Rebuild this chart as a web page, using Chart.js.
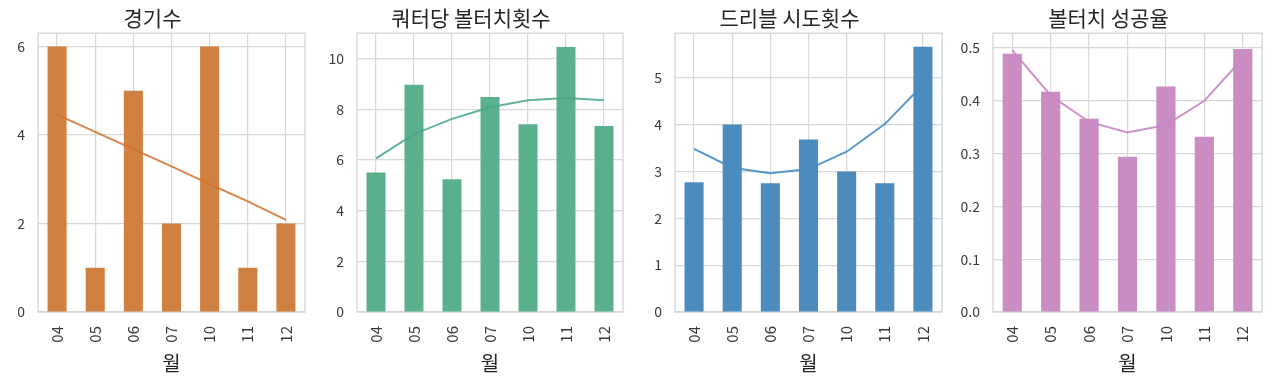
<!DOCTYPE html>
<html>
<head>
<meta charset="utf-8">
<script src="https://cdn.jsdelivr.net/npm/chart.js@4/dist/chart.umd.min.js"></script>
<style>
  body { margin: 0; background: #fff; width: 1280px; height: 389px; position: relative; overflow: hidden; }
  canvas { position: absolute; top: 0; }
</style>
</head>
<body>
<canvas id="c0"></canvas>
<canvas id="c1"></canvas>
<canvas id="c2"></canvas>
<canvas id="c3"></canvas>
<script>
// months on the x axis
const months = ['04', '05', '06', '07', '10', '11', '12'];

// bar values per panel
const games = [6, 1, 5, 2, 6, 1, 2];
const tackles = [5.5, 8.97, 5.24, 8.48, 7.41, 10.46, 7.34];
const dribbles = [2.77, 4.0, 2.75, 3.68, 3.0, 2.75, 5.66];
const successRate = [0.489, 0.417, 0.366, 0.294, 0.427, 0.332, 0.498];

// trend lines
const gamesTrend = [4.46, 4.07, 3.68, 3.29, 2.89, 2.5, 2.08];
const tacklesTrend = [6.06, 7.02, 7.62, 8.08, 8.35, 8.44, 8.35];
const dribblesTrend = [3.48, 3.08, 2.96, 3.05, 3.42, 4.01, 4.85];
const successTrend = [0.496, 0.41, 0.36, 0.34, 0.354, 0.40, 0.48];

const titles = ['경기수', '쿼터당 볼터치횟수', '드리블 시도횟수', '볼터치 성공율'];

const panels = [
  { bars: games, trend: gamesTrend, color: '#d08040', line: 'rgba(212,112,45,0.85)', max: 6.3, step: 2, dec: 0 },
  { bars: tackles, trend: tacklesTrend, color: '#5aaf8c', line: 'rgba(70,168,128,0.85)', max: 11.0, step: 2, dec: 0 },
  { bars: dribbles, trend: dribblesTrend, color: '#4b8bbe', line: 'rgba(70,140,195,0.9)', max: 5.95, step: 1, dec: 0 },
  { bars: successRate, trend: successTrend, color: '#c98dc4', line: 'rgba(200,135,195,0.9)', max: 0.528, step: 0.1, dec: 1 }
];

const plotLeft = [38, 357, 675, 993];
const plotRight = [305, 623, 942, 1262];
const AXIS_W = 38;
const PLOT_BOTTOM = 312;
const BOTTOM_PAD = 13;

const font = '"Noto Sans CJK KR", "Noto Sans", sans-serif';

// light frame round the plot area
const frame = {
  id: 'frame',
  beforeDatasetsDraw(chart) {
    const a = chart.chartArea;
    const ctx = chart.ctx;
    ctx.save();
    ctx.strokeStyle = '#d4d4d4';
    ctx.lineWidth = 1.3;
    ctx.strokeRect(a.left, a.top, a.right - a.left, a.bottom - a.top);
    ctx.restore();
  }
};

panels.forEach((p, i) => {
  const cv = document.getElementById('c' + i);
  const w = plotRight[i] - plotLeft[i];
  cv.width = w + AXIS_W * 2;
  cv.height = 389;
  cv.style.left = (plotLeft[i] - AXIS_W) + 'px';

  new Chart(cv, {
    type: 'bar',
    data: {
      labels: months,
      datasets: [
        { type: 'line', data: p.trend, borderColor: p.line, borderWidth: 2, pointRadius: 0, tension: 0, order: 0 },
        { type: 'bar', data: p.bars, backgroundColor: p.color, barPercentage: 0.5, categoryPercentage: 1.0, order: 1 }
      ]
    },
    options: {
      responsive: false,
      animation: false,
      layout: { padding: { left: 0, right: AXIS_W, top: 0, bottom: BOTTOM_PAD } },
      plugins: {
        legend: { display: false },
        tooltip: { enabled: false },
        title: {
          display: true,
          text: titles[i],
          color: '#262626',
          font: { family: font, size: 21, weight: 'normal' },
          padding: { top: 5, bottom: 3 }
        }
      },
      scales: {
        x: {
          grid: { color: '#d8d8d8', lineWidth: 1.2, offset: false, drawTicks: false },
          border: { display: false },
          afterFit(scale) { scale.height = 389 - PLOT_BOTTOM - BOTTOM_PAD; },
          ticks: {
            color: '#3a3a3a', font: { family: font, size: 15 },
            minRotation: 90, maxRotation: 90, autoSkip: false, padding: 14
          },
          title: { display: true, text: '월', color: '#262626', font: { family: font, size: 20 }, padding: { top: 0, bottom: 1 } }
        },
        y: {
          min: 0,
          max: p.max,
          grid: { color: '#d8d8d8', lineWidth: 1.2, drawTicks: false },
          border: { display: false },
          afterFit(scale) { scale.width = AXIS_W; },
          ticks: {
            stepSize: p.step,
            includeBounds: false,
            padding: 13,
            color: '#3a3a3a',
            font: { family: font, size: 14 },
            callback: v => v.toFixed(p.dec)
          }
        }
      }
    },
    plugins: [frame]
  });
});
</script>
</body>
</html>
